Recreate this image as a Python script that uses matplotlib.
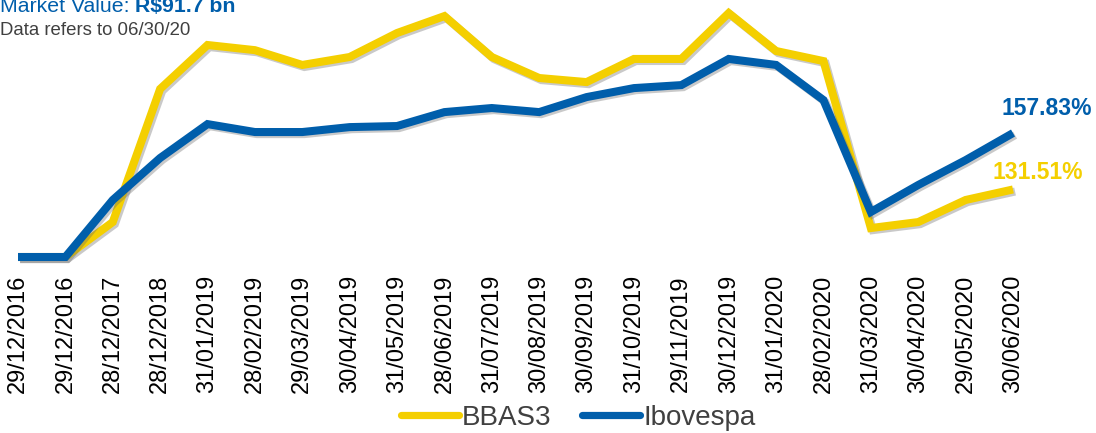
import matplotlib
matplotlib.use('Agg')
import matplotlib.pyplot as plt
import matplotlib.patheffects as pe

plt.rcParams['font.family'] = ['Liberation Sans', 'DejaVu Sans']

# dates on the x axis (first one repeated as in the source chart)
dates = ['29/12/2016', '29/12/2016', '28/12/2017', '28/12/2018', '31/01/2019',
         '28/02/2019', '29/03/2019', '30/04/2019', '31/05/2019', '28/06/2019',
         '31/07/2019', '30/08/2019', '30/09/2019', '31/10/2019', '29/11/2019',
         '30/12/2019', '31/01/2020', '28/02/2020', '31/03/2020', '30/04/2020',
         '29/05/2020', '30/06/2020']

# index values (base 100)
bbas3 = [100, 100, 116.3, 178.4, 198.9, 196.5, 189.6, 193.3, 204.5, 212.4,
         193.3, 183.5, 181.6, 192.4, 192.4, 213.8, 196.1, 191.4, 113.5, 116.3,
         126.6, 131.51]
ibov = [100, 100, 126.6, 146.2, 162.0, 158.3, 158.3, 160.6, 161.1, 167.6,
        169.5, 167.6, 174.6, 178.8, 180.2, 192.4, 189.6, 173.2, 121.0, 133.6,
        145.2, 157.83]

end_labels = ['131.51%', '157.83%']

yellow = '#F4CF00'
blue = '#005EAB'
grey = '#404040'

fig = plt.figure(figsize=(10.96, 4.33), dpi=100)
W, H = 1096, 433
ax = fig.add_axes([18 / W, 176 / H, (1013 - 18) / W, 257 / H])

x = list(range(len(dates)))
shadow = [pe.SimpleLineShadow(offset=(1.5, -1.5), shadow_color='0.4', alpha=0.35), pe.Normal()]

ax.plot(x, bbas3, color=yellow, lw=5.8, label='BBAS3', solid_capstyle='butt',
        solid_joinstyle='miter', clip_on=False, path_effects=shadow)
ax.plot(x, ibov, color=blue, lw=5.8, label='Ibovespa', solid_capstyle='butt',
        solid_joinstyle='miter', clip_on=False, path_effects=shadow)

ax.set_xlim(0, len(dates) - 1)
ax.set_ylim(100, 219.9)

ax.set_xticks(x)
ax.set_xticklabels(dates, rotation=90, fontsize=17, color='black')
ax.tick_params(axis='x', length=0, pad=13)
ax.set_yticks([])
for s in ax.spines.values():
    s.set_visible(False)

# end of line labels
ax.annotate(end_labels[1], xy=(x[-1], ibov[-1]), xytext=(34, 25),
            textcoords='offset pixels', ha='center', va='center',
            fontsize=16.5, fontweight='bold', color=blue, annotation_clip=False)
ax.annotate(end_labels[0], xy=(x[-1], bbas3[-1]), xytext=(25, 17),
            textcoords='offset pixels', ha='center', va='center',
            fontsize=16.5, fontweight='bold', color=yellow, annotation_clip=False)

# header text
t1 = fig.text(0, (H - 12) / H, 'Market Value: ', fontsize=15.3, color=blue,
              ha='left', va='baseline')
ax.annotate('R$91.7 bn', xy=(1, 0), xycoords=t1, ha='left', va='bottom',
            fontsize=15.3, fontweight='bold', color=blue, annotation_clip=False)
fig.text(0, (H - 35) / H, 'Data refers to 06/30/20', fontsize=13.4, color=grey,
         ha='left', va='baseline')

leg = fig.legend(loc='center', bbox_to_anchor=(578 / W, 15 / H), ncol=2,
                 frameon=False, fontsize=20, handlelength=2.1, handletextpad=0.1,
                 columnspacing=1.1, borderpad=0, borderaxespad=0)
for txt in leg.get_texts():
    txt.set_color(grey)
for h in leg.get_lines():
    h.set_linewidth(5.2)
    h.set_solid_capstyle('round')
    h.set_path_effects([])

fig.savefig('out.png', dpi=100)
